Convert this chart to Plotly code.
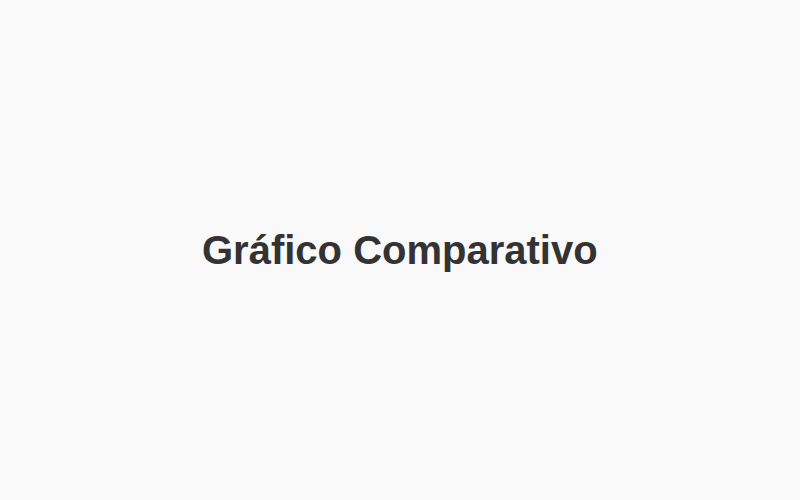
"""Placeholder chart: only the centred title is shown."""
import plotly.graph_objects as go

title_text = "Gráfico Comparativo"
bg = "#f9f9f9"

fig = go.Figure()
fig.add_annotation(
    text=f"<b>{title_text}</b>",
    x=0.5, y=0.5, xref="paper", yref="paper",
    xanchor="center", yanchor="middle", showarrow=False,
    font=dict(family="Liberation Sans, Arial, sans-serif", size=40, color="#333333"),
)
fig.update_xaxes(visible=False)
fig.update_yaxes(visible=False)
fig.update_layout(
    width=800, height=500,
    margin=dict(l=0, r=0, t=0, b=0),
    paper_bgcolor=bg, plot_bgcolor=bg,
    showlegend=False,
)
# drop the default page margin so the figure fills the window
fig.write_html(
    "out.html",
    config={"displayModeBar": False},
    post_script=f"document.body.style.margin='0';document.body.style.background='{bg}';",
)
